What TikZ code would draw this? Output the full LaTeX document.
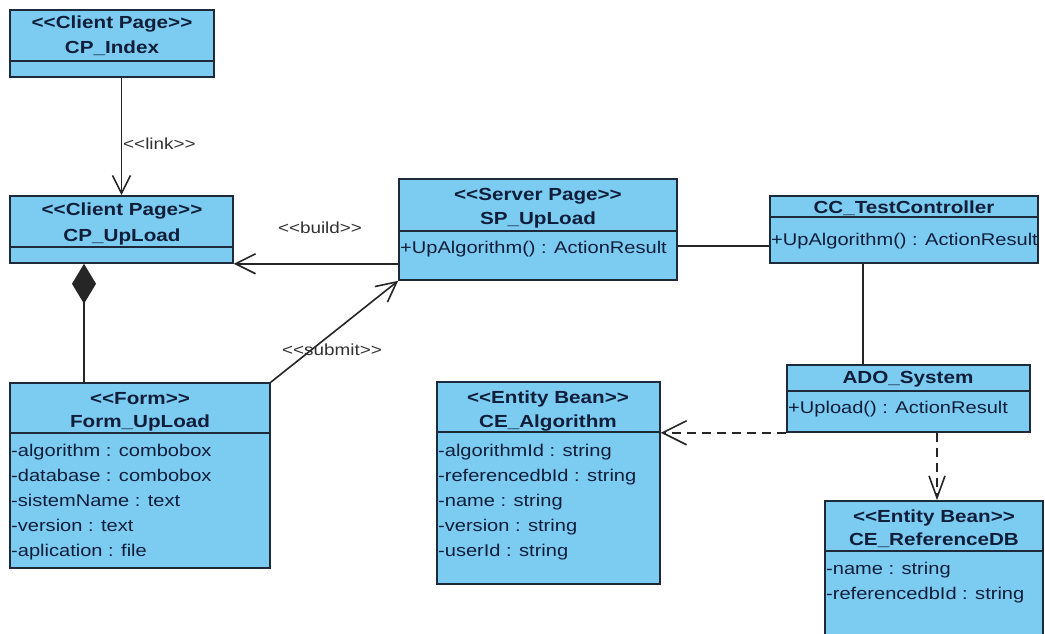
\documentclass[tikz,border=0pt]{standalone}
\usepackage{fontspec}
\setmainfont{Liberation Sans}[FakeStretch=1.18]
\usetikzlibrary{arrows.meta,fit}

\definecolor{classfill}{RGB}{124,204,242}
\definecolor{classline}{RGB}{30,42,58}
\definecolor{classtext}{RGB}{16,30,58}
\definecolor{labeltext}{RGB}{50,50,50}

% stereotype brackets, kept apart so no ligature forms
\newcommand\stype[1]{{<}{<}#1{>}{>}}

\tikzset{
  classbox/.style={draw=classline, fill=classfill, line width=1.6pt, inner sep=0pt},
  divider/.style={draw=classline, line width=1.6pt},
  title/.style={inner sep=0pt, text height=12pt, text depth=0pt, text=classtext,
    font=\fontsize{17.5}{20}\selectfont\bfseries},
  member/.style={inner sep=0pt, anchor=west, text height=12pt, text depth=0pt, text=classtext,
    font=\fontsize{17}{20}\selectfont},
  conlabel/.style={inner sep=0pt, text height=12pt, text depth=0pt, text=labeltext,
    font=\fontsize{16}{20}\selectfont},
  conn/.style={draw=black!85, line width=1.6pt},
  openhead/.style={-{Straight Barb[length=20pt,width=20pt]}},
  dashline/.style={dash pattern=on 9pt off 6pt},
}

\begin{document}
\begin{tikzpicture}[x=1pt,y=-1pt]
  \clip (0,0) rectangle (1045,634);
  \fill[white] (0,0) rectangle (1045,634);

  % class boxes
  \node[classbox, fit={(10,10) (214,77)}]    (CPIndex)    {};
  \node[classbox, fit={(10,196) (233,263)}]  (CPUpLoad)   {};
  \node[classbox, fit={(10,383) (270,568)}]  (FormUpLoad) {};
  \node[classbox, fit={(399,179) (677,280)}] (SPUpLoad)   {};
  \node[classbox, fit={(770,196) (1038,263)}] (CCTest)    {};
  \node[classbox, fit={(787,365) (1030,432)}] (ADO)       {};
  \node[classbox, fit={(437,382) (660,584)}] (CEAlg)      {};
  \node[classbox, fit={(825,501) (1043,650)}] (CERef)     {};

  % compartment dividers
  \draw[divider] (CPIndex.west |- 0,61)    -- (CPIndex.east |- 0,61);
  \draw[divider] (CPUpLoad.west |- 0,247)  -- (CPUpLoad.east |- 0,247);
  \draw[divider] (FormUpLoad.west |- 0,433) -- (FormUpLoad.east |- 0,433);
  \draw[divider] (SPUpLoad.west |- 0,231)  -- (SPUpLoad.east |- 0,231);
  \draw[divider] (CCTest.west |- 0,217)    -- (CCTest.east |- 0,217);
  \draw[divider] (ADO.west |- 0,391)       -- (ADO.east |- 0,391);
  \draw[divider] (CEAlg.west |- 0,432)     -- (CEAlg.east |- 0,432);
  \draw[divider] (CERef.west |- 0,551)     -- (CERef.east |- 0,551);

  % CP_Index
  \node[title] (CPIndexS) at (112,23) {\stype{Client Page}};
  \node[title] (CPIndexN) at (112,48) {CP\_Index};

  % CP_UpLoad
  \node[title] (CPUpLoadS) at (122,209) {\stype{Client Page}};
  \node[title] (CPUpLoadN) at (122,235) {CP\_UpLoad};

  % Form_UpLoad
  \node[title] (FormS) at (140,398) {\stype{Form}};
  \node[title] (FormN) at (140,421) {Form\_UpLoad};
  \node[member] (FormA1) at (11,450) {-algorithm : combobox};
  \node[member] (FormA2) at (11,475) {-database : combobox};
  \node[member] (FormA3) at (11,500) {-sistemName : text};
  \node[member] (FormA4) at (11,525) {-version : text};
  \node[member] (FormA5) at (11,550) {-aplication : file};

  % SP_UpLoad
  \node[title] (SPS) at (538,194) {\stype{Server Page}};
  \node[title] (SPN) at (538,218) {SP\_UpLoad};
  \node[member] (SPM1) at (400,247) {+UpAlgorithm() : ActionResult};

  % CC_TestController
  \node[title] (CCN) at (904,207) {CC\_TestController};
  \node[member] (CCM1) at (771,239) {+UpAlgorithm() : ActionResult};

  % ADO_System
  \node[title] (ADON) at (908,377) {ADO\_System};
  \node[member] (ADOM1) at (788,407) {+Upload() : ActionResult};

  % CE_Algorithm
  \node[title] (CEAlgS) at (548,397) {\stype{Entity Bean}};
  \node[title] (CEAlgN) at (548,421) {CE\_Algorithm};
  \node[member] (CEAlgA1) at (438,450) {-algorithmId : string};
  \node[member] (CEAlgA2) at (438,475) {-referencedbId : string};
  \node[member] (CEAlgA3) at (438,500) {-name : string};
  \node[member] (CEAlgA4) at (438,525) {-version : string};
  \node[member] (CEAlgA5) at (438,550) {-userId : string};

  % CE_ReferenceDB
  \node[title] (CERefS) at (934,516) {\stype{Entity Bean}};
  \node[title] (CERefN) at (934,539) {CE\_ReferenceDB};
  \node[member] (CERefA1) at (826,568) {-name : string};
  \node[member] (CERefA2) at (826,593) {-referencedbId : string};

  % connectors
  \draw[conn, -{Straight Barb[length=18pt,width=18pt]}]
    (CPIndex.south -| CPUpLoad.north) -- (CPUpLoad.north);
  \node[conlabel, anchor=west] (LinkL) at (123,143) {\stype{link}};

  \draw[conn, openhead] (SPUpLoad.west |- CPUpLoad.south east) -- (CPUpLoad.south east);
  \node[conlabel] (BuildL) at (320,227) {\stype{build}};

  \draw[conn, {Diamond[length=40pt,width=24pt]}-]
    (CPUpLoad.south -| 84,0) -- (FormUpLoad.north -| 84,0);

  \draw[conn, openhead] (FormUpLoad.north east) -- (SPUpLoad.south west);
  \node[conlabel] (SubmitL) at (332,349) {\stype{submit}};

  \draw[conn] (SPUpLoad.east |- 0,246) -- (CCTest.west |- 0,246);
  \draw[conn] (CCTest.south -| 863,0) -- (ADO.north -| 863,0);

  \draw[conn, dashline, -{Straight Barb[length=24pt,width=24pt]}]
    (ADO.south west) -- (CEAlg.east |- ADO.south west);
  \draw[conn, dashline, -{Straight Barb[length=22pt,width=16pt]}]
    (ADO.south -| 937,0) -- (CERef.north -| 937,0);
\end{tikzpicture}
\end{document}
